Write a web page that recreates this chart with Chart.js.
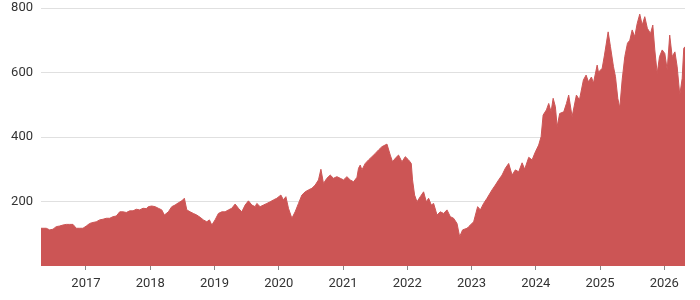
<!DOCTYPE html>
<html>
<head>
<meta charset="utf-8">
<script src="https://cdn.jsdelivr.net/npm/chart.js"></script>
<style>
  html, body { margin: 0; padding: 0; background: #fff; }
  #wrap { width: 700px; height: 300px; }
</style>
</head>
<body>
<div id="wrap"><canvas id="chart"></canvas></div>
<script>
// time as decimal year
const years = [
  2016.300, 2016.382, 2016.435, 2016.486, 2016.537, 2016.590, 2016.642, 2016.693, 2016.746, 2016.798,
  2016.849, 2016.902, 2016.953, 2017.005, 2017.058, 2017.109, 2017.160, 2017.213, 2017.265, 2017.316,
  2017.369, 2017.421, 2017.472, 2017.525, 2017.576, 2017.628, 2017.681, 2017.732, 2017.783, 2017.836,
  2017.888, 2017.939, 2017.970, 2018.023, 2018.075, 2018.126, 2018.179, 2018.220, 2018.282, 2018.335,
  2018.386, 2018.438, 2018.491, 2018.531, 2018.569, 2018.620, 2018.671, 2018.724, 2018.776, 2018.827,
  2018.880, 2018.921, 2018.958, 2019.009, 2019.061, 2019.114, 2019.165, 2019.217, 2019.269, 2019.321,
  2019.372, 2019.425, 2019.477, 2019.528, 2019.581, 2019.632, 2019.659, 2019.710, 2019.762, 2019.815,
  2019.866, 2019.918, 2019.970, 2020.033, 2020.073, 2020.111, 2020.151, 2020.204, 2020.255, 2020.307,
  2020.360, 2020.411, 2020.463, 2020.516, 2020.567, 2020.618, 2020.656, 2020.696, 2020.749, 2020.801,
  2020.852, 2020.905, 2020.956, 2021.008, 2021.061, 2021.112, 2021.164, 2021.217, 2021.241, 2021.268,
  2021.294, 2021.346, 2021.397, 2021.450, 2021.502, 2021.553, 2021.606, 2021.684, 2021.735, 2021.771,
  2021.813, 2021.864, 2021.917, 2021.969, 2022.020, 2022.062, 2022.082, 2022.114, 2022.151, 2022.202,
  2022.254, 2022.296, 2022.332, 2022.374, 2022.410, 2022.463, 2022.514, 2022.565, 2022.618, 2022.670,
  2022.721, 2022.774, 2022.815, 2022.861, 2022.930, 2022.955, 2023.033, 2023.095, 2023.137, 2023.188,
  2023.241, 2023.319, 2023.371, 2023.422, 2023.475, 2023.526, 2023.578, 2023.631, 2023.682, 2023.734,
  2023.787, 2023.827, 2023.890, 2023.942, 2023.994, 2024.045, 2024.083, 2024.114, 2024.165, 2024.201,
  2024.238, 2024.270, 2024.305, 2024.332, 2024.372, 2024.435, 2024.477, 2024.512, 2024.565, 2024.632,
  2024.679, 2024.741, 2024.783, 2024.819, 2024.866, 2024.897, 2024.955, 2024.975, 2025.033, 2025.069,
  2025.126, 2025.162, 2025.209, 2025.240, 2025.276, 2025.307, 2025.344, 2025.385, 2025.427, 2025.463,
  2025.500, 2025.540, 2025.578, 2025.618, 2025.656, 2025.696, 2025.736, 2025.785, 2025.821, 2025.852,
  2025.889, 2025.925, 2025.967, 2026.008, 2026.045, 2026.084, 2026.122, 2026.165, 2026.200, 2026.241,
  2026.278, 2026.303, 2026.322
];

const price = [
  117, 117, 112, 114, 122, 124, 127, 129, 129, 129,
  117, 117, 117, 124, 132, 135, 137, 143, 145, 148,
  148, 153, 155, 168, 168, 166, 171, 171, 176, 174,
  179, 178, 184, 186, 184, 179, 174, 158, 168, 184,
  189, 196, 202, 210, 174, 168, 163, 158, 151, 143,
  137, 143, 127, 143, 163, 168, 168, 174, 179, 192,
  179, 168, 189, 202, 189, 184, 194, 184, 189, 194,
  199, 205, 210, 220, 205, 215, 179, 148, 168, 194,
  220, 230, 236, 241, 251, 267, 300, 256, 272, 282,
  272, 277, 272, 267, 277, 267, 261, 275, 303, 313,
  298, 318, 329, 339, 349, 360, 370, 378, 344, 323,
  334, 344, 323, 339, 329, 318, 267, 220, 199, 215,
  230, 199, 210, 189, 194, 158, 168, 163, 174, 153,
  148, 132, 91, 112, 117, 122, 137, 184, 174, 194,
  210, 236, 251, 267, 282, 303, 318, 282, 298, 292,
  320, 300, 337, 329, 354, 375, 401, 468, 484, 504,
  478, 520, 494, 432, 473, 478, 504, 530, 463, 530,
  515, 577, 592, 571, 586, 567, 623, 601, 613, 654,
  726, 680, 618, 587, 520, 490, 577, 649, 691, 700,
  732, 711, 752, 781, 747, 773, 737, 721, 747, 670,
  597, 649, 670, 659, 608, 716, 649, 664, 618, 530,
  582, 675, 680
];

const yearTicks = [2017, 2018, 2019, 2020, 2021, 2022, 2023, 2024, 2025, 2026];
const valueTicks = [200, 400, 600, 800];

const points = years.map((t, i) => ({ x: t, y: price[i] }));

Chart.defaults.font.family = "Roboto, 'Noto Sans', sans-serif";
Chart.defaults.font.size = 13;
Chart.defaults.color = '#333';

new Chart(document.getElementById('chart'), {
  type: 'line',
  data: {
    datasets: [{
      data: points,
      fill: 'origin',
      backgroundColor: 'rgb(204, 85, 85)',
      borderColor: 'rgb(204, 85, 85)',
      borderWidth: 1,
      pointRadius: 0,
      tension: 0
    }]
  },
  options: {
    responsive: true,
    maintainAspectRatio: false,
    animation: false,
    events: [],
    layout: { padding: { left: 0, right: 15, top: 8, bottom: 0 } },
    plugins: { legend: { display: false }, tooltip: { enabled: false } },
    scales: {
      x: {
        type: 'linear',
        min: years[0],
        max: years[years.length - 1],
        afterBuildTicks: s => { s.ticks = yearTicks.map(v => ({ value: v })); },
        afterFit: s => { s.height = 34; s.paddingLeft = 0; s.paddingRight = 0; },
        ticks: { padding: 6, callback: v => String(v), maxRotation: 0 },
        grid: { drawOnChartArea: false, drawTicks: true, tickLength: 4, color: '#888' },
        border: { display: false }
      },
      y: {
        min: 0,
        max: 800,
        z: 1,
        afterBuildTicks: s => { s.ticks = valueTicks.map(v => ({ value: v })); },
        afterFit: s => { s.width = 41; s.paddingTop = 0; s.paddingBottom = 0; },
        ticks: { padding: 8 },
        grid: { color: 'rgba(0,0,0,0.12)', drawTicks: false },
        border: { display: false }
      }
    }
  }
});
</script>
</body>
</html>
